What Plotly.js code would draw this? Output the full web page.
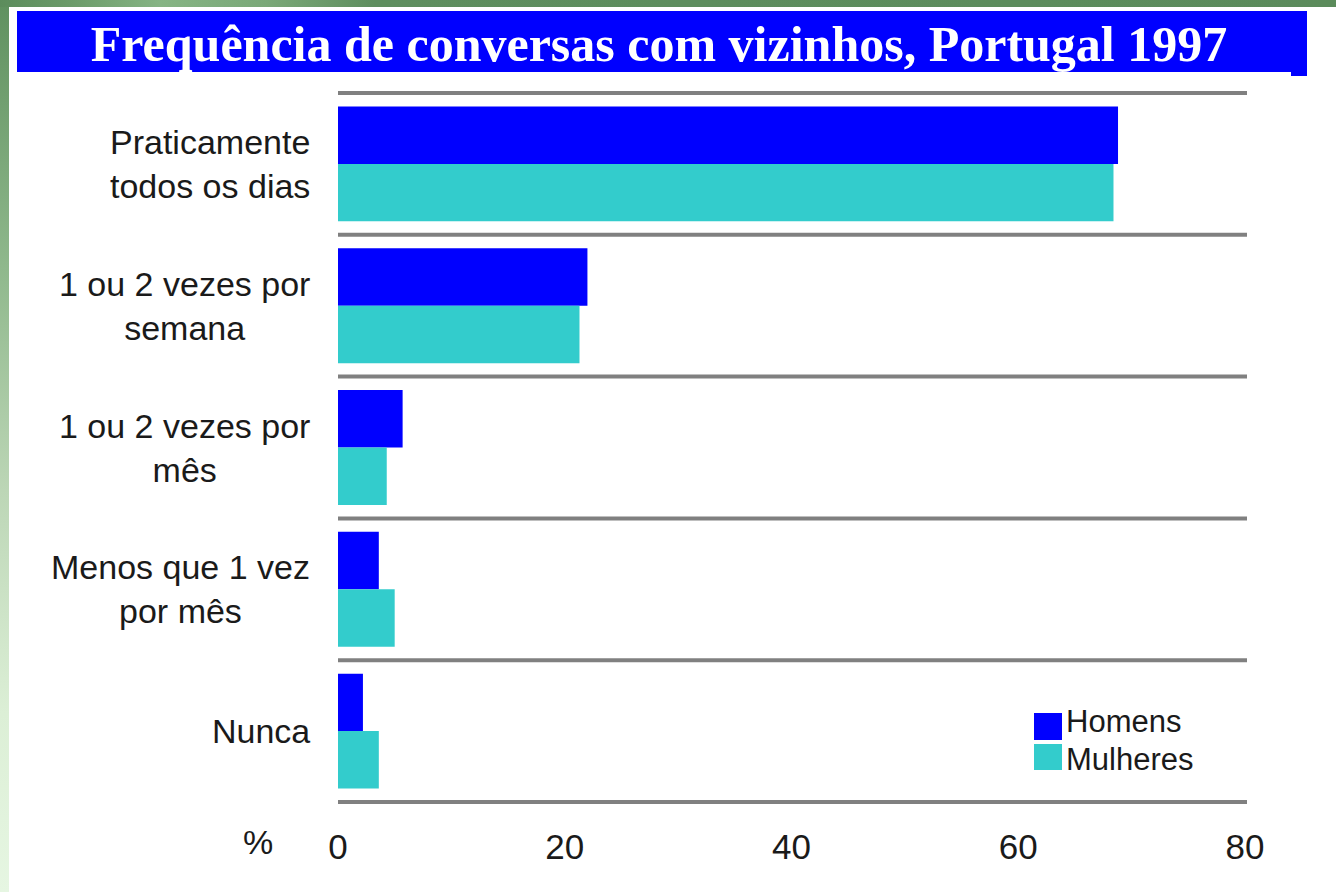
<!DOCTYPE html>
<html>
<head>
<meta charset="utf-8">
<script src="https://cdn.plot.ly/plotly-3.0.1.min.js"></script>
<style>
  html, body { margin: 0; padding: 0; width: 1336px; height: 892px; overflow: hidden; }
  body { position: relative; background: linear-gradient(to bottom, #5f905f 0%, #8fb88c 30%, #bcd6b6 55%, #dcefd6 80%, #e6f6e2 100%); }
  #topstrip { position: absolute; left: 0; top: 0; width: 1336px; height: 7px;
    background: linear-gradient(to right, #5c8c5c 0%, #6a9a68 5%, #86b484 12%, #7aa878 20%, #5e8e5e 28%, #5b8b5b 100%); }
  #sheet { position: absolute; left: 9px; top: 7px; width: 1327px; height: 885px; background: #ffffff; }
  #chart { position: absolute; left: 0; top: 0; width: 1336px; height: 892px; }
</style>
</head>
<body>
<div id="topstrip"></div>
<div id="sheet"></div>
<div id="chart"></div>
<script>
// ---- data ----
const titleText = "Frequência de conversas com vizinhos, Portugal 1997";
const categories = [
  "Praticamente<br>todos os dias",
  "1 ou 2 vezes por<br>semana",
  "1 ou 2 vezes por<br>mês",
  "Menos que 1 vez<br>por mês",
  "Nunca"
];
const seriesNames = ["Homens", "Mulheres"];
const homens = [68.8, 22.0, 5.7, 3.6, 2.2];
const mulheres = [68.4, 21.3, 4.3, 5.0, 3.6];
const xTickVals = [0, 20, 40, 60, 80];
const xUnitLabel = "%";

// ---- layout helpers (pixel -> paper) ----
const W = 1336, H = 892;
const M = { l: 338, r: 91, t: 93, b: 90 };
const PW = W - M.l - M.r, PH = H - M.t - M.b;
const px = x => (x - M.l) / PW;
const py = y => 1 - (y - M.t) / PH;

const colors = ["#0000ff", "#33cccc"];

const traces = [
  { type: "bar", orientation: "h", name: seriesNames[0], y: categories, x: homens,
    marker: { color: colors[0], line: { width: 0 } }, hoverinfo: "x+name" },
  { type: "bar", orientation: "h", name: seriesNames[1], y: categories, x: mulheres,
    marker: { color: colors[1], line: { width: 0 } }, hoverinfo: "x+name" }
];

const shapes = [];
// title banner
shapes.push({ type: "rect", xref: "paper", yref: "paper", x0: px(17), x1: px(1307), y0: py(72), y1: py(11),
  fillcolor: "#0000ff", line: { width: 0 }, layer: "below" });
shapes.push({ type: "rect", xref: "paper", yref: "paper", x0: px(1291), x1: px(1307), y0: py(76), y1: py(71),
  fillcolor: "#0000ff", line: { width: 0 }, layer: "below" });
// category separators (band edges of the category axis)
for (let i = 0; i <= categories.length; i++) {
  const yy = 1 - i / categories.length;
  shapes.push({ type: "line", xref: "paper", yref: "paper", x0: 0, x1: px(1247), y0: yy, y1: yy,
    line: { color: "#808080", width: 4 } });
}
// legend swatches
shapes.push({ type: "rect", xref: "paper", yref: "paper", x0: px(1034), x1: px(1062), y0: py(740), y1: py(713),
  fillcolor: colors[0], line: { width: 0 } });
shapes.push({ type: "rect", xref: "paper", yref: "paper", x0: px(1034), x1: px(1062), y0: py(770), y1: py(744),
  fillcolor: colors[1], line: { width: 0 } });

const textFont = { family: "Liberation Sans, Arial, sans-serif", size: 34, color: "#1a1a1a" };
const legendFont = { family: "Liberation Sans, Arial, sans-serif", size: 31, color: "#1a1a1a" };

const annotations = [];
categories.forEach(c => {
  annotations.push({ xref: "paper", yref: "y", x: 0, y: c, xanchor: "right", yanchor: "middle",
    xshift: -26, text: c, showarrow: false, align: "center", font: textFont });
});
annotations.push({ xref: "paper", yref: "paper", x: px(1065), y: py(721), xanchor: "left", yanchor: "middle",
  text: seriesNames[0], showarrow: false, font: legendFont, borderpad: 0 });
annotations.push({ xref: "paper", yref: "paper", x: px(1065), y: py(759), xanchor: "left", yanchor: "middle",
  text: seriesNames[1], showarrow: false, font: legendFont, borderpad: 0 });
annotations.push({ xref: "paper", yref: "paper", x: px(258), y: py(842), xanchor: "center", yanchor: "middle",
  text: xUnitLabel, showarrow: false, font: textFont });

const layout = {
  width: W, height: H,
  margin: M,
  paper_bgcolor: "rgba(0,0,0,0)",
  plot_bgcolor: "rgba(0,0,0,0)",
  showlegend: false,
  barmode: "group",
  bargap: 0.19,
  bargroupgap: 0,
  title: {
    text: titleText,
    xref: "container", yref: "container",
    x: 659 / W, xanchor: "center",
    y: 1 - 43 / H, yanchor: "middle",
    font: { family: "Liberation Serif, Times New Roman, serif", size: 50, color: "#ffffff", weight: "bold" }
  },
  xaxis: {
    range: [0, 80],
    tickvals: xTickVals,
    ticktext: xTickVals.map(String),
    showgrid: false, zeroline: false, showline: false,
    ticks: "", ticklabelstandoff: 21,
    tickfont: { family: "Liberation Sans, Arial, sans-serif", size: 35, color: "#1a1a1a" },
    fixedrange: true
  },
  yaxis: {
    type: "category",
    categoryorder: "array", categoryarray: categories,
    range: [categories.length - 0.5, -0.5],
    showticklabels: false,
    showgrid: false, zeroline: false, showline: false, ticks: "",
    fixedrange: true
  },
  shapes: shapes,
  annotations: annotations
};

Plotly.newPlot("chart", traces, layout, { displayModeBar: false, staticPlot: true });
</script>
</body>
</html>
